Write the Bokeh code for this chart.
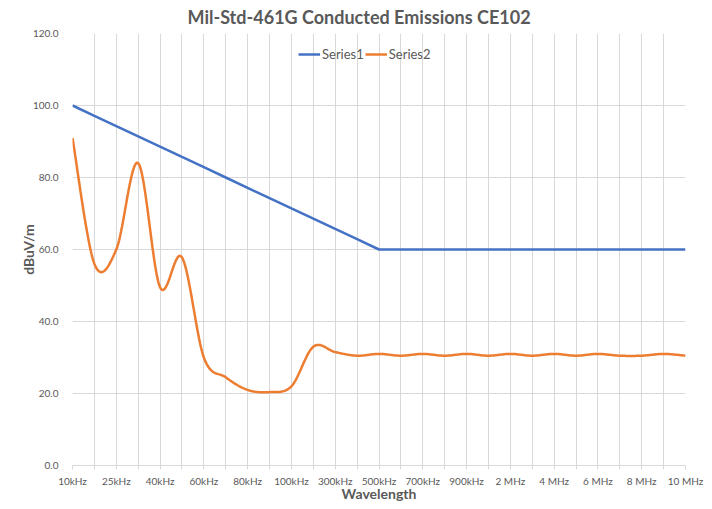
import numpy as np
from bokeh.plotting import figure
from bokeh.models import FixedTicker, Legend, LegendItem, Title
from bokeh.embed import file_html
from bokeh.resources import INLINE

categories = ["10kHz", "20kHz", "25kHz", "30kHz", "40kHz", "50kHz", "60kHz", "70kHz",
              "80kHz", "90kHz", "100kHz", "200kHz", "300kHz", "400kHz", "500kHz",
              "600kHz", "700kHz", "800kHz", "900kHz", "1 MHz", "2 MHz", "3 MHz",
              "4 MHz", "5 MHz", "6 MHz", "7 MHz", "8 MHz", "9 MHz", "10 MHz"]
series1 = [100.0, 97.1, 94.3, 91.4, 88.6, 85.7, 82.9, 80.0, 77.1, 74.3, 71.4, 68.6,
           65.7, 62.9, 60.0, 60.0, 60.0, 60.0, 60.0, 60.0, 60.0, 60.0, 60.0, 60.0,
           60.0, 60.0, 60.0, 60.0, 60.0]
series2 = [91.0, 56.0, 60.0, 84.0, 49.5, 57.8, 30.0, 24.5, 21.0, 20.4, 22.0, 33.0,
           31.5, 30.5, 31.0, 30.5, 31.0, 30.5, 31.0, 30.5, 31.0, 30.5, 31.0, 30.5,
           31.0, 30.5, 30.5, 31.0, 30.5]
y_ticks = [0, 20, 40, 60, 80, 100, 120]

FONT = "Lato"
GRAY = "#595959"
GRID = "#D9D9D9"


def smooth(xs, ys, n=24):
    """Excel-like smoothed line (Catmull-Rom Bezier) through the points."""
    xs = np.asarray(xs, float)
    ys = np.asarray(ys, float)
    m = len(xs)
    ox, oy = [], []
    t = np.linspace(0, 1, n)
    for i in range(m - 1):
        i0 = max(i - 1, 0)
        i3 = min(i + 2, m - 1)
        p0 = np.array([xs[i0], ys[i0]])
        p1 = np.array([xs[i], ys[i]])
        p2 = np.array([xs[i + 1], ys[i + 1]])
        p3 = np.array([xs[i3], ys[i3]])
        c1 = p1 + (p2 - p0) / 6.0
        c2 = p2 - (p3 - p1) / 6.0
        for tt in (t if i == 0 else t[1:]):
            b = ((1 - tt) ** 3) * p1 + 3 * ((1 - tt) ** 2) * tt * c1 + 3 * (1 - tt) * tt ** 2 * c2 + tt ** 3 * p2
            ox.append(b[0])
            oy.append(b[1])
    return ox, oy


idx = list(range(len(categories)))

p = figure(width=712, height=509, output_backend="svg", toolbar_location=None,
           x_range=(0, len(categories) - 1), y_range=(0, 120),
           min_border_left=72, min_border_right=27, min_border_top=33, min_border_bottom=44)
p.outline_line_color = None
p.background_fill_color = "white"
p.border_fill_color = "white"

# title
p.title = Title(text="Mil-Std-461G Conducted Emissions CE102", align="left",
                text_font=FONT, text_font_size="18px", text_font_style="bold",
                text_color=GRAY, offset=115, standoff=8, vertical_align="top")

# x axis
p.xaxis.ticker = FixedTicker(ticks=idx)
p.xaxis.major_label_overrides = {i: (categories[i] if i % 2 == 0 else "") for i in idx}
p.xaxis.axis_label = "Wavelength"
p.xaxis.axis_label_text_font = FONT
p.xaxis.axis_label_text_font_size = "14px"
p.xaxis.axis_label_text_font_style = "bold"
p.xaxis.axis_label_text_color = GRAY
p.xaxis.axis_label_standoff = -5
p.xaxis.major_label_text_font = FONT
p.xaxis.major_label_text_font_size = "10px"
p.xaxis.major_label_text_color = GRAY
p.xaxis.major_label_standoff = 5
p.xaxis.axis_line_color = GRID
p.xaxis.major_tick_line_color = GRID
p.xaxis.major_tick_out = 4
p.xaxis.major_tick_in = 0
p.xaxis.minor_tick_line_color = None

# y axis
p.yaxis.ticker = FixedTicker(ticks=y_ticks)
p.yaxis.major_label_overrides = {v: f"{v:.1f}" for v in y_ticks}
p.yaxis.axis_label = "dBuV/m"
p.yaxis.axis_label_text_font = FONT
p.yaxis.axis_label_text_font_size = "14px"
p.yaxis.axis_label_text_font_style = "bold"
p.yaxis.axis_label_text_color = GRAY
p.yaxis.axis_label_standoff = -7
p.yaxis.major_label_text_font = FONT
p.yaxis.major_label_text_font_size = "10px"
p.yaxis.major_label_text_color = GRAY
p.yaxis.major_label_standoff = 8
p.yaxis.axis_line_color = None
p.yaxis.major_tick_line_color = None
p.yaxis.minor_tick_line_color = None

p.xgrid.grid_line_color = GRID
p.ygrid.grid_line_color = GRID

sx, sy = smooth(idx, series2)
r1 = p.line(idx, series1, line_color="#4472C4", line_width=2.5)
r2 = p.line(sx, sy, line_color="#ED7D31", line_width=2.5)

legend = Legend(items=[LegendItem(label="Series1", renderers=[r1]),
                       LegendItem(label="Series2", renderers=[r2])],
                orientation="horizontal", location=(226, 403),
                label_text_font=FONT, label_text_font_size="13px", label_text_color=GRAY,
                glyph_width=22, glyph_height=14, label_standoff=2, spacing=1,
                padding=0, margin=0, border_line_color=None, background_fill_alpha=0)
p.add_layout(legend, "center")

open("out.html", "w").write(file_html(p, INLINE))
